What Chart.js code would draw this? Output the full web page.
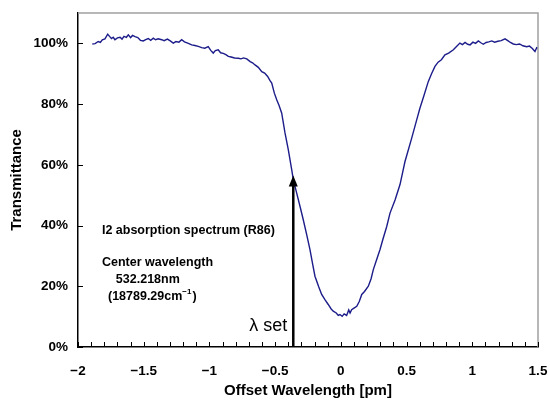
<!DOCTYPE html>
<html>
<head>
<meta charset="utf-8">
<script src="https://cdn.jsdelivr.net/npm/chart.js@4.4.0/dist/chart.umd.min.js"></script>
<style>
html,body{margin:0;padding:0;background:#fff;}
#wrap{width:550px;height:401px;position:relative;}
</style>
</head>
<body>
<div id="wrap"><canvas id="c" width="550" height="401"></canvas></div>
<script>
// Offset wavelength [pm]
const offsetPm = [
-1.891,-1.870,-1.846,-1.830,-1.815,-1.795,-1.774,-1.760,-1.745,-1.732,-1.719,-1.700,-1.680,-1.665,-1.650,-1.632,-1.617,-1.600,-1.585,-1.566,
-1.545,-1.525,-1.503,-1.485,-1.465,-1.447,-1.427,-1.410,-1.390,-1.363,-1.345,-1.320,-1.298,-1.275,-1.255,-1.232,-1.211,-1.190,-1.165,-1.135,
-1.110,-1.085,-1.059,-1.035,-1.009,-0.990,-0.971,-0.955,-0.933,-0.915,-0.895,-0.875,-0.856,-0.835,-0.808,-0.780,-0.760,-0.740,-0.716,-0.690,
-0.672,-0.653,-0.628,-0.602,-0.580,-0.557,-0.540,-0.526,-0.506,-0.488,-0.470,-0.450,-0.425,-0.400,-0.374,-0.362,-0.336,-0.310,-0.286,-0.260,
-0.235,-0.215,-0.197,-0.170,-0.146,-0.120,-0.096,-0.075,-0.058,-0.035,-0.020,-0.007,0.010,0.025,0.044,0.060,0.070,0.082,0.100,0.121,
0.140,0.159,0.180,0.209,0.230,0.247,0.270,0.298,0.320,0.349,0.374,0.413,0.450,0.488,0.539,0.577,0.602,0.630,0.665,0.690,
0.716,0.740,0.765,0.792,0.820,0.856,0.880,0.906,0.925,0.945,0.965,0.983,1.005,1.025,1.046,1.065,1.084,1.105,1.125,1.148,
1.170,1.195,1.220,1.249,1.270,1.290,1.312,1.335,1.360,1.385,1.414,1.435,1.455,1.477,1.490,1.500
];
// Transmittance [%]
const transmittance = [
99.8,99.9,100.6,100.3,101.2,101.5,103.0,102.3,101.6,102.0,101.2,101.8,102.0,101.4,102.3,102.0,102.8,101.9,102.6,102.2,
101.9,101.0,100.8,101.2,101.6,101.0,101.7,101.2,101.5,101.2,100.9,101.4,100.8,100.1,100.6,100.4,101.2,100.5,100.1,99.5,
99.3,99.0,98.6,98.4,98.9,97.7,96.8,97.6,97.9,96.9,96.7,96.3,95.7,95.5,95.2,95.1,94.9,95.2,94.9,94.0,
93.6,92.9,92.1,90.7,90.2,89.1,87.8,86.9,83.6,81.4,79.5,77.0,70.5,65.0,58.4,55.1,50.7,46.2,41.9,37.0,
32.1,27.4,23.3,20.0,17.3,15.5,14.0,12.6,11.8,11.2,10.4,10.7,10.1,10.9,10.4,12.2,11.2,12.3,12.8,13.4,
15.0,17.3,18.3,20.0,22.5,25.5,28.5,32.1,35.5,39.7,44.1,48.5,53.5,61.1,68.8,74.8,78.7,82.5,87.4,90.0,
92.4,93.8,94.6,96.2,96.8,97.9,99.0,100.1,99.6,100.3,99.7,99.5,100.4,100.0,100.8,100.2,99.7,100.3,100.5,100.8,
100.4,100.7,100.9,101.5,100.9,100.3,99.8,99.6,99.8,99.2,98.9,99.1,98.4,97.3,98.6,98.4
];
const xTickValues = [-2,-1.5,-1,-0.5,0,0.5,1,1.5];
const yTickValues = [0,20,40,60,80,100];
const xMinorStep = 0.1;
const setPoint = {x:-0.362, y:56.5};
const notes = [
  {x:-1.818, y:38.2, text:"I2 absorption spectrum (R86)"},
  {x:-1.818, y:27.8, text:"Center wavelength"},
  {x:-1.712, y:22.3, text:"532.218nm"},
  {x:-1.772, y:16.5, text:"(18789.29cm", sup:"\u22121", after:")"}
];

const FONT = "'Liberation Sans', Arial, sans-serif";
const fmtX = v => (v<0?"\u2212":"") + String(Math.abs(v));

const decor = {
  id:'decor',
  afterDraw(chart){
    const {ctx, chartArea:a, scales:{x,y}} = chart;
    ctx.save();
    // top and right gray frame
    ctx.strokeStyle = '#a0a0a0'; ctx.lineWidth = 1.5;
    ctx.beginPath();
    ctx.moveTo(a.left, a.top); ctx.lineTo(a.right, a.top); ctx.lineTo(a.right, a.bottom);
    ctx.stroke();
    // inner ticks
    ctx.strokeStyle = '#000'; ctx.lineWidth = 1;
    ctx.beginPath();
    for(let v=x.min; v<=x.max+1e-9; v+=xMinorStep){
      const px = Math.round(x.getPixelForValue(v))+0.5;
      ctx.moveTo(px, a.bottom); ctx.lineTo(px, a.bottom-5);
    }
    yTickValues.forEach(v=>{
      const py = Math.round(y.getPixelForValue(v))+0.5;
      ctx.moveTo(a.left, py); ctx.lineTo(a.left+5, py);
    });
    ctx.stroke();
    // arrow
    const ax = x.getPixelForValue(setPoint.x);
    const tip = y.getPixelForValue(setPoint.y);
    ctx.strokeStyle='#000'; ctx.fillStyle='#000'; ctx.lineWidth=2.5;
    ctx.beginPath(); ctx.moveTo(ax, a.bottom); ctx.lineTo(ax, tip+8); ctx.stroke();
    ctx.beginPath(); ctx.moveTo(ax, tip); ctx.lineTo(ax-4.5, tip+11); ctx.lineTo(ax+4.5, tip+11); ctx.closePath(); ctx.fill();
    // lambda set label
    ctx.font = "18px " + FONT; ctx.textAlign='right'; ctx.textBaseline='middle';
    ctx.fillText("\u03bb set", ax-6, y.getPixelForValue(6.9));
    // notes
    ctx.textAlign='left';
    notes.forEach(n=>{
      ctx.font = "bold 12.5px " + FONT;
      const px = x.getPixelForValue(n.x), py = y.getPixelForValue(n.y);
      ctx.fillText(n.text, px, py);
      if(n.sup){
        const w = ctx.measureText(n.text).width;
        ctx.font = "bold 8px " + FONT;
        ctx.fillText(n.sup, px+w, py-5);
        const w2 = ctx.measureText(n.sup).width;
        ctx.font = "bold 12.5px " + FONT;
        ctx.fillText(n.after, px+w+w2+1, py);
      }
    });
    ctx.restore();
  }
};

const noPad = s => { s.paddingLeft = 0; s.paddingRight = 0; s.paddingTop = 0; s.paddingBottom = 0; };

new Chart(document.getElementById('c'), {
  type:'line',
  data:{datasets:[{
    data: offsetPm.map((v,i)=>({x:v, y:transmittance[i]})),
    borderColor:'#1c1c8a', borderWidth:1.4, pointRadius:0, tension:0, fill:false
  }]},
  options:{
    responsive:false, animation:false, devicePixelRatio:1,
    layout:{padding:{left:0,right:12,top:13,bottom:0}},
    plugins:{legend:{display:false}, tooltip:{enabled:false}},
    scales:{
      x:{
        type:'linear', min:-2, max:1.5,
        afterBuildTicks: s => { s.ticks = xTickValues.map(v=>({value:v})); },
        afterFit: s => { s.height = 54; noPad(s); },
        ticks:{callback:v=>fmtX(v), color:'#000', font:{family:FONT,size:13.5,weight:'bold'}, padding:16, maxRotation:0, autoSkip:false},
        grid:{display:true, drawOnChartArea:false, drawTicks:false},
        border:{display:true, color:'#000', width:1.5},
        title:{display:true, text:'Offset Wavelength [pm]', color:'#000', font:{family:FONT,size:15,weight:'bold'}, padding:{top:2,bottom:1}}
      },
      y:{
        type:'linear', min:0, max:110,
        afterBuildTicks: s => { s.ticks = yTickValues.map(v=>({value:v})); },
        afterFit: s => { s.width = 78; noPad(s); },
        ticks:{callback:v=>v+'%', color:'#000', font:{family:FONT,size:13.5,weight:'bold'}, padding:10},
        grid:{display:true, drawOnChartArea:false, drawTicks:false},
        border:{display:true, color:'#000', width:1.5},
        title:{display:true, text:'Transmittance', color:'#000', font:{family:FONT,size:15,weight:'bold'}, padding:{top:8,bottom:0}}
      }
    }
  },
  plugins:[decor]
});
</script>
</body>
</html>
